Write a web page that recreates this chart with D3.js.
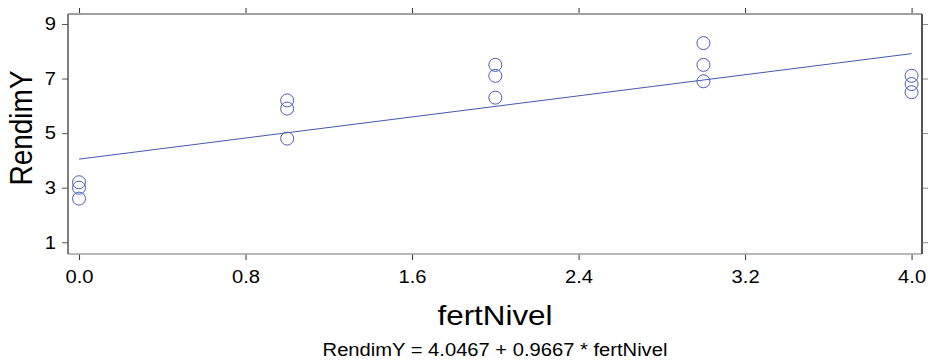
<!DOCTYPE html>
<html>
<head>
<meta charset="utf-8">
<script src="https://cdn.jsdelivr.net/npm/d3@7"></script>
<style>
  body { margin: 0; background: #fff; }
  text { font-family: "Liberation Sans", Arial, sans-serif; fill: #000; }
  .frame-dark { stroke: #555; }
  .frame-light { stroke: #a0a0a0; }
</style>
</head>
<body>
<svg width="928" height="360"></svg>
<script>
var svg = d3.select('svg');
var width = +svg.attr('width'),
    height = +svg.attr('height'),
    margin = {top: 14, right: 6, bottom: 106, left: 68};
var stretch = 1.12; // the reference text is a bit wider than plain Arial

// fertilizer level and yield, three replicates per level
var fertNivel = [0, 0, 0, 1, 1, 1, 2, 2, 2, 3, 3, 3, 4, 4, 4];
var rendimY   = [3.2, 3.0, 2.6, 6.2, 5.9, 4.8, 7.5, 7.1, 6.3, 8.3, 7.5, 6.9, 7.1, 6.8, 6.5];
var fit = {b0: 4.0467, b1: 0.9667};
var xTicks = [0, 0.8, 1.6, 2.4, 3.2, 4.0];
var yTicks = [1, 3, 5, 7, 9];

var x = d3.scaleLinear()
    .domain([-0.053, 4.05])
    .range([margin.left, width - margin.right]);
var y = d3.scaleLinear()
    .domain([0.57, 9.366])
    .range([height - margin.bottom, margin.top]);

var x0 = margin.left, x1 = width - margin.right,
    y0 = margin.top, y1 = height - margin.bottom;

// axes (ticks outward on all four sides)
svg.append('g')
    .attr('transform', 'translate(0,' + y1 + ')')
    .call(d3.axisBottom(x).tickValues(xTicks).tickFormat(d3.format('.1f')).tickSize(6).tickPadding(10))
    .call(function(g){ g.select('.domain').remove(); })
    .call(function(g){ g.selectAll('line').attr('stroke', '#333'); g.selectAll('text').attr('font-size', 18); });

svg.append('g')
    .attr('transform', 'translate(0,' + y0 + ')')
    .call(d3.axisTop(x).tickValues(xTicks).tickFormat('').tickSize(6))
    .call(function(g){ g.select('.domain').remove(); g.selectAll('line').attr('stroke', '#333'); });

svg.append('g')
    .attr('transform', 'translate(' + x0 + ',0)')
    .call(d3.axisLeft(y).tickValues(yTicks).tickSize(6).tickPadding(6))
    .call(function(g){ g.select('.domain').remove(); })
    .call(function(g){ g.selectAll('line').attr('stroke', '#555'); g.selectAll('text').attr('font-size', 18); });

svg.append('g')
    .attr('transform', 'translate(' + x1 + ',0)')
    .call(d3.axisRight(y).tickValues(yTicks).tickFormat('').tickSize(6))
    .call(function(g){ g.select('.domain').remove(); g.selectAll('line').attr('stroke', '#888'); });

// frame
svg.append('line').attr('class', 'frame-light').attr('x1', x0).attr('x2', x1).attr('y1', y0).attr('y2', y0).attr('stroke-width', 2);
svg.append('line').attr('class', 'frame-light').attr('x1', x0).attr('x2', x1).attr('y1', y1).attr('y2', y1).attr('stroke-width', 1.5);
svg.append('line').attr('class', 'frame-dark').attr('x1', x0).attr('x2', x0).attr('y1', y0).attr('y2', y1).attr('stroke-width', 1.5);
svg.append('line').attr('class', 'frame-dark').attr('x1', x1).attr('x2', x1).attr('y1', y0).attr('y2', y1).attr('stroke-width', 2);

// fitted line
var line = d3.line()
    .x(function(d) { return x(d); })
    .y(function(d) { return y(fit.b0 + fit.b1 * d); });

svg.append('path')
    .datum(d3.extent(fertNivel))
    .attr('fill', 'none')
    .attr('stroke', '#4558b0')
    .attr('stroke-width', 1)
    .attr('d', line);

// observations
svg.append('g').selectAll('circle')
    .data(fertNivel).enter().append('circle')
    .attr('cx', function(d) { return x(d); })
    .attr('cy', function(d, i) { return y(rendimY[i]); })
    .attr('r', 6.5)
    .attr('fill', 'none')
    .attr('stroke', '#4a5cc0')
    .attr('stroke-width', 1);

// titles
svg.append('text')
    .attr('x', (x0 + x1) / 2)
    .attr('y', 325)
    .attr('text-anchor', 'middle')
    .attr('font-size', 28)
    .text('fertNivel');

svg.append('text')
    .attr('transform', 'translate(32,128) rotate(-90) scale(1,' + stretch + ')')
    .attr('text-anchor', 'middle')
    .attr('font-size', 28)
    .attr('class', 'vertical')
    .text('RendimY');

svg.append('text')
    .attr('x', (x0 + x1) / 2)
    .attr('y', 356)
    .attr('text-anchor', 'middle')
    .attr('font-size', 18)
    .text('RendimY = ' + fit.b0.toFixed(4) + ' + ' + fit.b1.toFixed(4) + ' * fertNivel');

// widen horizontal text to match the reference proportions
svg.selectAll('text').filter(function() { return !this.classList.contains('vertical') && this.textContent; })
    .each(function() {
        var w = this.getComputedTextLength();
        d3.select(this).attr('textLength', w * stretch).attr('lengthAdjust', 'spacingAndGlyphs');
    });
</script>
</body>
</html>
